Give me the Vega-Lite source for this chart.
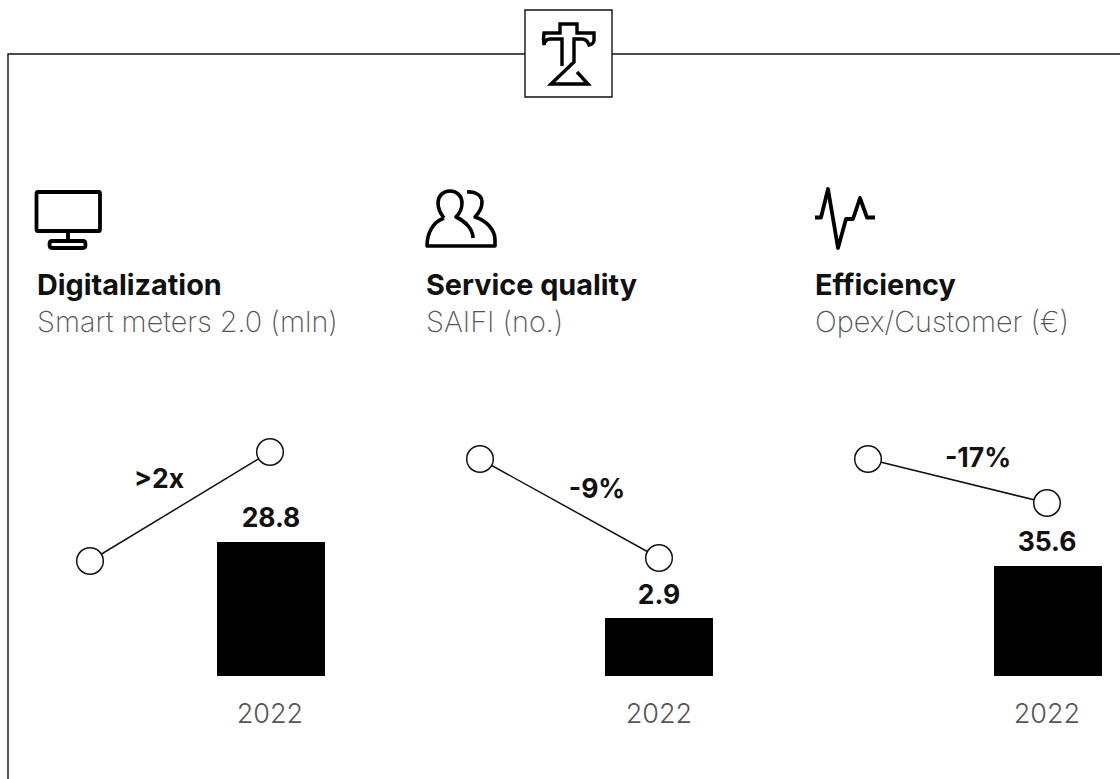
{
"$schema":"https://vega.github.io/schema/vega-lite/v6.json",
"autosize":{"type":"none"},
"width":1120,"height":779,"padding":0,"background":"white",
"config":{"view":{"stroke":null}},
"datasets":{
"frame":[{"x":8,"y":779,"seg":"a","o":1},{"x":8,"y":54,"seg":"a","o":2},{"x":525,"y":54,"seg":"a","o":3},{"x":612,"y":54,"seg":"b","o":1},{"x":1120,"y":54,"seg":"b","o":2}],
"logoBox":[{"x":525,"y":10,"x2":612,"y2":97}],
"bars":[{"panel":"Digitalization","x":217,"x2":325,"y":542,"y2":676,"value":"28.8","lx":271,"ly":526.5,"year":"2022","yx":270,"yy":723},
{"panel":"Service quality","x":605,"x2":713,"y":618,"y2":676,"value":"2.9","lx":659,"ly":604,"year":"2022","yx":659,"yy":723},
{"panel":"Efficiency","x":994,"x2":1102,"y":566,"y2":676,"value":"35.6","lx":1047,"ly":551,"year":"2022","yx":1047,"yy":723}],
"trend":[{"panel":"Digitalization","o":1,"x":90,"y":561},{"panel":"Digitalization","o":2,"x":270,"y":452},
{"panel":"Service quality","o":1,"x":480,"y":459},{"panel":"Service quality","o":2,"x":659,"y":558},
{"panel":"Efficiency","o":1,"x":868,"y":459},{"panel":"Efficiency","o":2,"x":1047,"y":503}],
"delta":[{"x":159,"y":488,"label":">2x"},{"x":597,"y":498,"label":"-9%"},{"x":978,"y":467,"label":"-17%"}],
"heads":[{"x":37,"y":295,"title":"Digitalization","sy":332,"sub":"Smart meters 2.0 (mln)"},{"x":426,"y":295,"title":"Service quality","sy":332,"sub":"SAIFI (no.)"},{"x":815,"y":295,"title":"Efficiency","sy":332,"sub":"Opex/Customer (€)"}],
"anchor":[{"x":0,"y":0}]
},
"layer":[
{"data":{"name":"frame"},"mark":{"type":"line","color":"#111","strokeWidth":1.4,"interpolate":"linear"},"encoding":{"x":{"field":"x","type":"quantitative","scale":{"domain":[0,1120],"nice":false,"zero":false},"axis":null},"y":{"field":"y","type":"quantitative","scale":{"domain":[779,0],"nice":false,"zero":false},"axis":null},"detail":{"field":"seg"},"order":{"field":"o"}}},
{"data":{"name":"logoBox"},"mark":{"type":"rect","fill":"white","stroke":"#111","strokeWidth":1.4},"encoding":{"x":{"field":"x","type":"quantitative","axis":null},"x2":{"field":"x2"},"y":{"field":"y","type":"quantitative","axis":null},"y2":{"field":"y2"}}},
{"data":{"name":"anchor"},"mark":{"type":"point","filled":false,"size":4,"stroke":"black","strokeWidth":3.4,"opacity":1,"shape":"M562 66V39H550Q545 39 544 45Q543 39 544 33H560V24H577V33H594V40Q594 44 589 45Q587 39 582 39H574V62L551 84H588L577 72"},"encoding":{"x":{"field":"x","type":"quantitative","axis":null},"y":{"field":"y","type":"quantitative","axis":null}}},
{"data":{"name":"anchor"},"mark":{"type":"point","filled":false,"size":4,"stroke":"black","strokeWidth":3.8,"opacity":1,"strokeJoin":"round","shape":"M38 192H99Q100 192 100 194V229Q100 231 99 231H38Q36.500 231 36.500 229V194Q36.500 192 38 192ZM68 231V241H52Q49.500 241 49.500 244.500Q49.500 248 52 248H83Q85.500 248 85.500 244.500Q85.500 241 83 241H68"},"encoding":{"x":{"field":"x","type":"quantitative","axis":null},"y":{"field":"y","type":"quantitative","axis":null}}},
{"data":{"name":"anchor"},"mark":{"type":"point","filled":false,"size":4,"stroke":"black","strokeWidth":3.6,"opacity":1,"strokeJoin":"round","shape":"M444 218C440 213 438 208 438 203C438 196 443 191 450 191C457 191 462 196 462 203C462 208 460 213 456 217C465 221 473 229 473 238M444 218C433 222 427 233 427 246H495V240C495 230 487 221 475 217C480 212 482 207 482 202C482 196 476 191 467 192"},"encoding":{"x":{"field":"x","type":"quantitative","axis":null},"y":{"field":"y","type":"quantitative","axis":null}}},
{"data":{"name":"anchor"},"mark":{"type":"point","filled":false,"size":4,"stroke":"black","strokeWidth":3.8,"opacity":1,"strokeJoin":"round","shape":"M815 217.500H821L828 189L838 248L846 219H853L860 198L867 217.500H875"},"encoding":{"x":{"field":"x","type":"quantitative","axis":null},"y":{"field":"y","type":"quantitative","axis":null}}},
{"data":{"name":"heads"},"mark":{"type":"text","align":"left","baseline":"alphabetic","font":"Inter","fontWeight":700,"fontSize":28.8,"color":"#111"},"encoding":{"x":{"field":"x","type":"quantitative","axis":null},"y":{"field":"y","type":"quantitative","axis":null},"text":{"field":"title"}}},
{"data":{"name":"heads"},"mark":{"type":"text","align":"left","baseline":"alphabetic","font":"Inter","fontWeight":200,"fontSize":28.8,"color":"#555"},"encoding":{"x":{"field":"x","type":"quantitative","axis":null},"y":{"field":"sy","type":"quantitative","axis":null},"text":{"field":"sub"}}},
{"data":{"name":"trend"},"mark":{"type":"line","color":"#111","strokeWidth":1.5},"encoding":{"x":{"field":"x","type":"quantitative","axis":null},"y":{"field":"y","type":"quantitative","axis":null},"detail":{"field":"panel"},"order":{"field":"o"}}},
{"data":{"name":"trend"},"mark":{"type":"point","filled":true,"fill":"white","stroke":"#111","strokeWidth":1.5,"size":707,"opacity":1},"encoding":{"x":{"field":"x","type":"quantitative","axis":null},"y":{"field":"y","type":"quantitative","axis":null}}},
{"data":{"name":"delta"},"mark":{"type":"text","align":"center","baseline":"alphabetic","font":"Inter","fontWeight":700,"fontSize":26.5,"color":"#111"},"encoding":{"x":{"field":"x","type":"quantitative","axis":null},"y":{"field":"y","type":"quantitative","axis":null},"text":{"field":"label"}}},
{"data":{"name":"bars"},"mark":{"type":"rect","fill":"black"},"encoding":{"x":{"field":"x","type":"quantitative","axis":null},"x2":{"field":"x2"},"y":{"field":"y","type":"quantitative","axis":null},"y2":{"field":"y2"}}},
{"data":{"name":"bars"},"mark":{"type":"text","align":"center","baseline":"alphabetic","font":"Inter","fontWeight":700,"fontSize":26.5,"color":"#111"},"encoding":{"x":{"field":"lx","type":"quantitative","axis":null},"y":{"field":"ly","type":"quantitative","axis":null},"text":{"field":"value"}}},
{"data":{"name":"bars"},"mark":{"type":"text","align":"center","baseline":"alphabetic","font":"Inter","fontWeight":300,"fontSize":27,"color":"#555"},"encoding":{"x":{"field":"yx","type":"quantitative","axis":null},"y":{"field":"yy","type":"quantitative","axis":null},"text":{"field":"year"}}}
]
}
